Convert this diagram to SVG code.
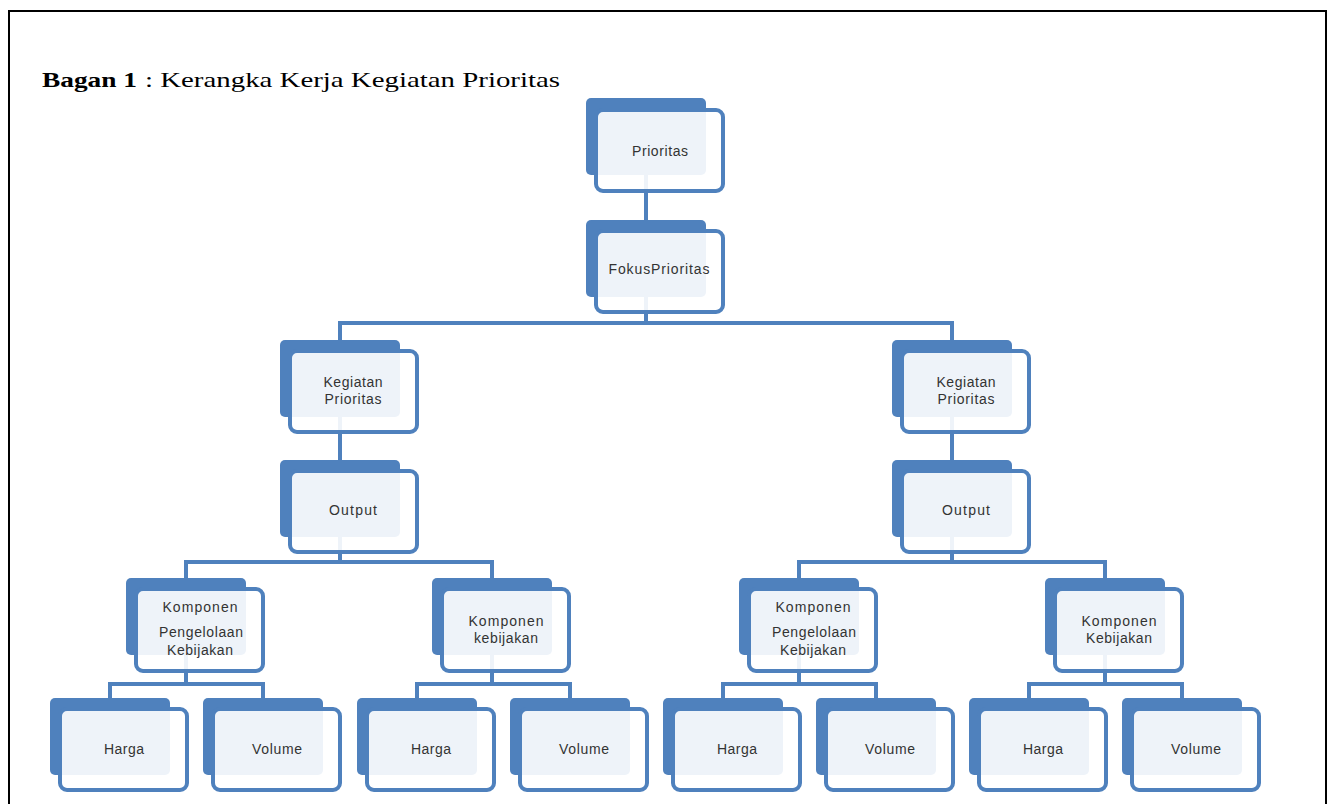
<svg xmlns="http://www.w3.org/2000/svg" width="1331" height="804" viewBox="0 0 1331 804">
<style>
.bk{fill:#4f81bd;}
.fr{fill:#ffffff;fill-opacity:0.9;stroke:#4f81bd;stroke-width:4;}
.t{font-family:"Liberation Sans",Arial,sans-serif;font-size:14px;fill:#333333;text-anchor:middle;}
.c{fill:none;stroke:#4f81bd;stroke-width:4;}
.ti{font-family:"Liberation Serif","Times New Roman",serif;font-size:22px;fill:#000;}
</style>
<rect x="0" y="0" width="1331" height="804" fill="#ffffff"/>
<rect x="9" y="11" width="1317" height="800" fill="none" stroke="#000" stroke-width="2"/>
<text class="ti" x="42" y="87" font-weight="bold" textLength="95" lengthAdjust="spacingAndGlyphs">Bagan 1</text>
<text class="ti" x="145" y="87" textLength="415" lengthAdjust="spacingAndGlyphs">: Kerangka Kerja Kegiatan Prioritas</text>
<g id="connectors">
<path class="c" d="M646 170V225"/>
<path class="c" d="M646 290V323M340 345V323H952V345"/>
<path class="c" d="M340 410V465M952 410V465"/>
<path class="c" d="M340 530V562M186 582V562H492V582M952 530V562M799 582V562H1105V582"/>
<path class="c" d="M186 650V684M110 702V684H263V702M492 650V684M417 702V684H570V702M799 650V684M723 702V684H876V702M1105 650V684M1029 702V684H1182V702"/>
</g>
<g id="n-prioritas"><rect class="bk" x="586" y="98" width="120" height="77" rx="5"/><rect class="fr" x="596" y="110" width="127" height="81" rx="7"/><text class="t" x="660" y="156" textLength="56" lengthAdjust="spacing">Prioritas</text></g>
<g id="n-fokus"><rect class="bk" x="586" y="220" width="120" height="77" rx="5"/><rect class="fr" x="596" y="231" width="127" height="81" rx="7"/><text class="t" x="659" y="274" textLength="101" lengthAdjust="spacing">FokusPrioritas</text></g>
<g id="n-kegiatan-l"><rect class="bk" x="280" y="340" width="120" height="77" rx="5"/><rect class="fr" x="290" y="351" width="127" height="81" rx="7"/><text class="t" x="353" y="387" textLength="59" lengthAdjust="spacing">Kegiatan</text><text class="t" x="353" y="404" textLength="57" lengthAdjust="spacing">Prioritas</text></g>
<g id="n-kegiatan-r"><rect class="bk" x="892" y="340" width="120" height="77" rx="5"/><rect class="fr" x="902" y="351" width="127" height="81" rx="7"/><text class="t" x="966" y="387" textLength="59" lengthAdjust="spacing">Kegiatan</text><text class="t" x="966" y="404" textLength="57" lengthAdjust="spacing">Prioritas</text></g>
<g id="n-output-l"><rect class="bk" x="280" y="460" width="120" height="77" rx="5"/><rect class="fr" x="290" y="471" width="127" height="81" rx="7"/><text class="t" x="353" y="515" textLength="48" lengthAdjust="spacing">Output</text></g>
<g id="n-output-r"><rect class="bk" x="892" y="460" width="120" height="77" rx="5"/><rect class="fr" x="902" y="471" width="127" height="81" rx="7"/><text class="t" x="966" y="515" textLength="48" lengthAdjust="spacing">Output</text></g>
<g id="n-komp1"><rect class="bk" x="126" y="578" width="120" height="77" rx="5"/><rect class="fr" x="136" y="589" width="127" height="82" rx="7"/><text class="t" x="200" y="612" textLength="75" lengthAdjust="spacing">Komponen</text><text class="t" x="201" y="637" textLength="84" lengthAdjust="spacing">Pengelolaan</text><text class="t" x="200" y="655" textLength="66" lengthAdjust="spacing">Kebijakan</text></g>
<g id="n-komp2"><rect class="bk" x="432" y="578" width="120" height="77" rx="5"/><rect class="fr" x="442" y="589" width="127" height="82" rx="7"/><text class="t" x="506" y="626" textLength="75" lengthAdjust="spacing">Komponen</text><text class="t" x="506" y="643" textLength="64" lengthAdjust="spacing">kebijakan</text></g>
<g id="n-komp3"><rect class="bk" x="739" y="578" width="120" height="77" rx="5"/><rect class="fr" x="749" y="589" width="127" height="82" rx="7"/><text class="t" x="813" y="612" textLength="75" lengthAdjust="spacing">Komponen</text><text class="t" x="814" y="637" textLength="84" lengthAdjust="spacing">Pengelolaan</text><text class="t" x="813" y="655" textLength="66" lengthAdjust="spacing">Kebijakan</text></g>
<g id="n-komp4"><rect class="bk" x="1045" y="578" width="120" height="77" rx="5"/><rect class="fr" x="1055" y="589" width="127" height="82" rx="7"/><text class="t" x="1119" y="626" textLength="75" lengthAdjust="spacing">Komponen</text><text class="t" x="1119" y="643" textLength="66" lengthAdjust="spacing">Kebijakan</text></g>
<g id="n-harga1"><rect class="bk" x="50" y="698" width="120" height="77" rx="5"/><rect class="fr" x="60" y="709" width="127" height="81" rx="7"/><text class="t" x="124" y="754" textLength="40" lengthAdjust="spacing">Harga</text></g>
<g id="n-volume1"><rect class="bk" x="203" y="698" width="120" height="77" rx="5"/><rect class="fr" x="213" y="709" width="127" height="81" rx="7"/><text class="t" x="277" y="754" textLength="50" lengthAdjust="spacing">Volume</text></g>
<g id="n-harga2"><rect class="bk" x="357" y="698" width="120" height="77" rx="5"/><rect class="fr" x="367" y="709" width="127" height="81" rx="7"/><text class="t" x="431" y="754" textLength="40" lengthAdjust="spacing">Harga</text></g>
<g id="n-volume2"><rect class="bk" x="510" y="698" width="120" height="77" rx="5"/><rect class="fr" x="520" y="709" width="127" height="81" rx="7"/><text class="t" x="584" y="754" textLength="50" lengthAdjust="spacing">Volume</text></g>
<g id="n-harga3"><rect class="bk" x="663" y="698" width="120" height="77" rx="5"/><rect class="fr" x="673" y="709" width="127" height="81" rx="7"/><text class="t" x="737" y="754" textLength="40" lengthAdjust="spacing">Harga</text></g>
<g id="n-volume3"><rect class="bk" x="816" y="698" width="120" height="77" rx="5"/><rect class="fr" x="826" y="709" width="127" height="81" rx="7"/><text class="t" x="890" y="754" textLength="50" lengthAdjust="spacing">Volume</text></g>
<g id="n-harga4"><rect class="bk" x="969" y="698" width="120" height="77" rx="5"/><rect class="fr" x="979" y="709" width="127" height="81" rx="7"/><text class="t" x="1043" y="754" textLength="40" lengthAdjust="spacing">Harga</text></g>
<g id="n-volume4"><rect class="bk" x="1122" y="698" width="120" height="77" rx="5"/><rect class="fr" x="1132" y="709" width="127" height="81" rx="7"/><text class="t" x="1196" y="754" textLength="50" lengthAdjust="spacing">Volume</text></g>
</svg>
